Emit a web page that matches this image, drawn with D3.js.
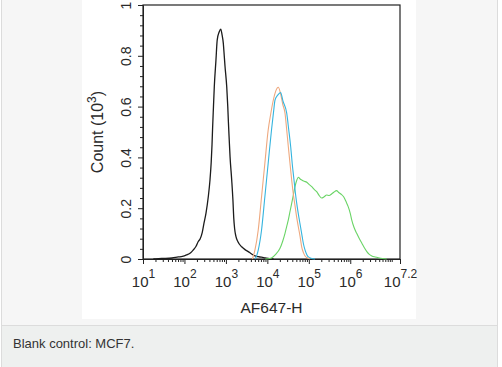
<!DOCTYPE html>
<html>
<head>
<meta charset="utf-8">
<script src="https://cdn.jsdelivr.net/npm/d3@7"></script>
<style>
  body { margin: 0; background: #fff; }
  svg text { font-family: "Liberation Sans", Arial, sans-serif; fill: #2a2a2a; }
</style>
</head>
<body>
<script>
// intensity given as log10 exponent, count in 10^3
const blankCtrl = [[1.25,0],[1.45,0.002],[1.7,0.004],[1.85,0.008],[1.95,0.01],[2.05,0.016],[2.15,0.025],[2.21,0.035],[2.28,0.05],[2.33,0.068],[2.38,0.08],[2.43,0.105],[2.47,0.14],[2.52,0.181],[2.575,0.245],[2.616,0.311],[2.645,0.38],[2.665,0.45],[2.68,0.52],[2.7,0.6],[2.72,0.678],[2.76,0.783],[2.79,0.862],[2.84,0.895],[2.875,0.905],[2.91,0.88],[2.937,0.85],[2.96,0.8],[2.978,0.76],[3.02,0.678],[3.045,0.6],[3.06,0.54],[3.08,0.47],[3.1,0.403],[3.14,0.311],[3.17,0.23],[3.19,0.16],[3.21,0.12],[3.24,0.09],[3.29,0.068],[3.38,0.048],[3.47,0.036],[3.54,0.029],[3.62,0.02],[3.7,0.012],[3.78,0.009],[3.86,0.007],[3.95,0.004],[4.05,0.001],[4.15,0]]
const isoCtrl = [[3.64,0],[3.7,0.035],[3.78,0.114],[3.86,0.245],[3.94,0.377],[4.02,0.508],[4.08,0.57],[4.144,0.626],[4.2,0.66],[4.264,0.676],[4.32,0.65],[4.37,0.61],[4.426,0.574],[4.466,0.51],[4.506,0.442],[4.55,0.37],[4.587,0.311],[4.627,0.255],[4.667,0.21],[4.707,0.165],[4.747,0.127],[4.79,0.088],[4.828,0.048],[4.87,0.025],[4.91,0.012],[4.97,0.004],[5.03,0.001]]
const secOnly = [[3.7,0],[3.74,0.012],[3.78,0.035],[3.86,0.114],[3.94,0.245],[4.02,0.377],[4.1,0.508],[4.15,0.58],[4.185,0.626],[4.25,0.645],[4.32,0.655],[4.38,0.62],[4.467,0.574],[4.515,0.51],[4.563,0.442],[4.6,0.375],[4.643,0.311],[4.68,0.255],[4.72,0.206],[4.76,0.165],[4.8,0.127],[4.84,0.088],[4.87,0.06],[4.91,0.035],[4.95,0.018],[4.99,0.008],[5.07,0.002],[5.15,0]]
const antibody = [[3.95,0],[4.05,0.002],[4.1,0.004],[4.2,0.018],[4.305,0.042],[4.37,0.07],[4.426,0.101],[4.47,0.13],[4.506,0.154],[4.55,0.19],[4.587,0.219],[4.63,0.255],[4.667,0.285],[4.71,0.31],[4.747,0.322],[4.79,0.315],[4.83,0.311],[4.89,0.306],[4.95,0.302],[5.01,0.293],[5.07,0.285],[5.13,0.274],[5.19,0.265],[5.25,0.25],[5.31,0.24],[5.37,0.245],[5.43,0.252],[5.49,0.25],[5.55,0.256],[5.61,0.264],[5.67,0.269],[5.72,0.262],[5.78,0.255],[5.84,0.245],[5.9,0.225],[5.95,0.206],[6,0.18],[6.035,0.154],[6.09,0.125],[6.155,0.101],[6.22,0.08],[6.28,0.062],[6.34,0.044],[6.4,0.029],[6.46,0.018],[6.52,0.012],[6.6,0.008],[6.68,0.005],[6.78,0.002],[6.88,0]]

const xTickExp = [1, 2, 3, 4, 5, 6, 7.2]
const yTicks = [0, 0.2, 0.4, 0.6, 0.8, 1]
const xTitle = "AF647-H"
const caption = "Blank control: MCF7."

var width = 502,
    height = 367;

var svg = d3.select("body").append("svg")
    .attr("width", width)
    .attr("height", height);

// page frame
svg.append("rect").attr("x", 1).attr("y", 0).attr("width", 496).attr("height", 326).attr("fill", "#f6f6f6");
svg.append("rect").attr("x", 82).attr("y", 0).attr("width", 334).attr("height", 319).attr("fill", "#fff");
svg.append("rect").attr("x", 1).attr("y", 326).attr("width", 496).attr("height", 41).attr("fill", "#eef0ef");
svg.append("line").attr("x1", 1).attr("x2", 497).attr("y1", 325.5).attr("y2", 325.5).attr("stroke", "#dcdcdc");
svg.append("line").attr("x1", 1.5).attr("x2", 1.5).attr("y1", 0).attr("y2", 367).attr("stroke", "#dcdcdc");
svg.append("line").attr("x1", 497.5).attr("x2", 497.5).attr("y1", 0).attr("y2", 367).attr("stroke", "#dcdcdc");

svg.append("text")
    .attr("x", 13).attr("y", 348)
    .style("font-size", "13px").style("fill", "#333")
    .text(caption);

// plot box (window.top is reserved, so prefixed names)
var pLeft = 143, pRight = 400, pTop = 5, pBottom = 259;

var x = d3.scaleLog().domain([10, Math.pow(10, 7.2)]).range([pLeft, pRight]);
var y = d3.scaleLinear().domain([0, 1]).range([pBottom, pTop]);

// minor ticks
var xMinor = [];
for (var d = 1; d <= 7; d++) {
    for (var m = 1; m < 10; m++) {
        var v = m * Math.pow(10, d);
        if (v <= Math.pow(10, 7.2) && (m > 1 || d == 7)) xMinor.push(v);
    }
}
var yMinor = d3.range(0, 1.001, 0.04).filter(v => Math.abs(v * 5 - Math.round(v * 5)) > 0.01);

svg.append("g")
    .attr("transform", `translate(0,${pBottom})`)
    .call(d3.axisBottom(x).tickValues(xMinor).tickSize(3).tickSizeOuter(0).tickFormat(""));
svg.append("g")
    .attr("transform", `translate(${pLeft},0)`)
    .call(d3.axisLeft(y).tickValues(yMinor).tickSize(3).tickSizeOuter(0).tickFormat(""));

var xAxis = svg.append("g")
    .attr("transform", `translate(0,${pBottom})`)
    .call(d3.axisBottom(x).tickValues(xTickExp.map(e => Math.pow(10, e))).tickSize(5).tickSizeOuter(0));

xAxis.selectAll(".tick text").each(function (d, i) {
    var t = d3.select(this).text("").attr("y", 28).attr("dy", 0).style("font-size", "15px");
    t.append("tspan").text("10");
    t.append("tspan").attr("dy", -9).style("font-size", "12px").text(xTickExp[i]);
});

var yAxis = svg.append("g")
    .attr("transform", `translate(${pLeft},0)`)
    .call(d3.axisLeft(y).tickValues(yTicks).tickSize(5).tickSizeOuter(0).tickFormat(d => d));

yAxis.selectAll(".tick text")
    .attr("x", 0).attr("dy", 0)
    .attr("transform", "translate(-12,0) rotate(-90)")
    .attr("text-anchor", "middle")
    .style("font-size", "14px");

svg.selectAll(".domain, .tick line").attr("stroke", "#222");

// box
svg.append("rect")
    .attr("x", pLeft).attr("y", pTop)
    .attr("width", pRight - pLeft).attr("height", pBottom - pTop)
    .attr("fill", "none").attr("stroke", "#222").attr("stroke-width", 1.2);

svg.append("text")
    .attr("x", (pLeft + pRight) / 2).attr("y", 313)
    .attr("text-anchor", "middle")
    .style("font-size", "15.5px")
    .text(xTitle);

var yTitle = svg.append("text")
    .attr("transform", `translate(103,${(pTop + pBottom) / 2}) rotate(-90)`)
    .attr("text-anchor", "middle")
    .style("font-size", "16px");
yTitle.append("tspan").text("Count (10");
yTitle.append("tspan").attr("dy", -7).style("font-size", "12px").text("3");
yTitle.append("tspan").attr("dy", 7).text(")");

var line = d3.line()
    .x(d => x(Math.pow(10, d[0])))
    .y(d => y(d[1]))
    .curve(d3.curveMonotoneX);

var series = [
    { data: blankCtrl, color: "#1c1c1c", w: 1.3 },
    { data: antibody, color: "#6ad466", w: 1.1 },
    { data: isoCtrl, color: "#eea87e", w: 1.1 },
    { data: secOnly, color: "#35b4de", w: 1.1 }
];

svg.append("g").selectAll("path")
    .data(series)
    .join("path")
    .attr("d", d => line(d.data))
    .attr("fill", "none")
    .attr("stroke", d => d.color)
    .attr("stroke-width", d => d.w);
</script>
</body>
</html>
